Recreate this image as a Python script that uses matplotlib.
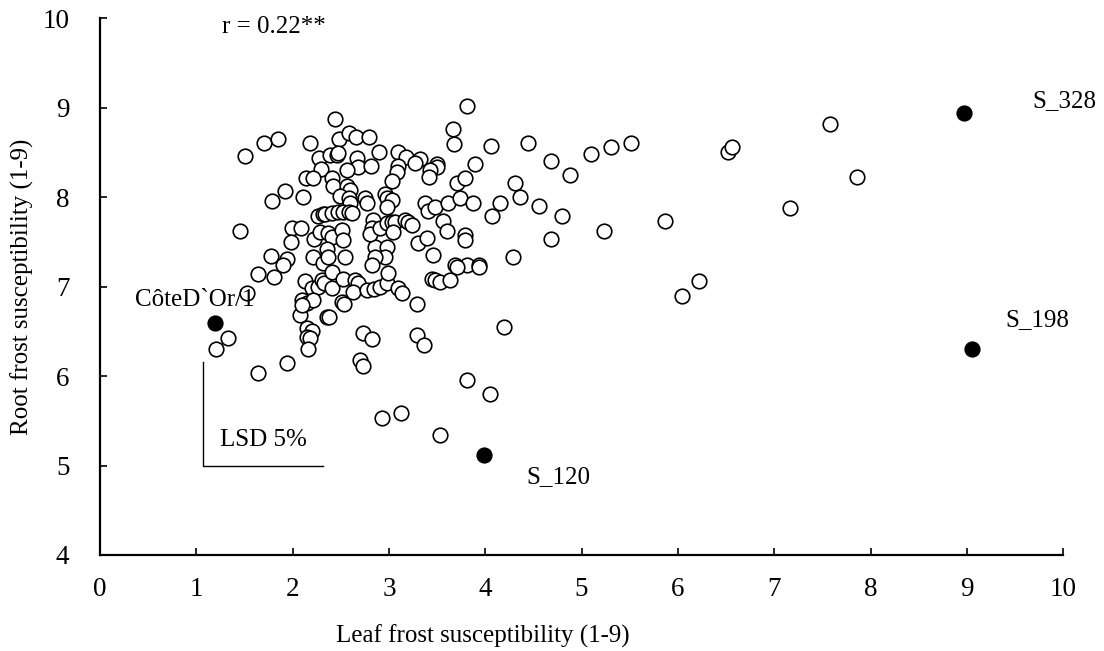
import matplotlib
matplotlib.use("Agg")
import matplotlib.pyplot as plt

plt.rcParams['font.family'] = ['Liberation Serif', 'DejaVu Serif']

leaf = [
    1.51, 1.70, 1.85, 2.18, 2.27, 2.29, 2.14, 2.21, 1.92, 1.79, 2.11, 1.45, 1.99, 2.09,
    1.98, 2.26, 2.32, 2.22, 2.28, 1.78, 1.94, 1.90, 2.21, 2.32, 1.64, 1.81, 2.13, 2.20,
    2.26, 2.30, 2.33, 1.53, 2.10, 2.15, 2.21, 2.08, 2.36, 2.15, 2.20, 2.15, 2.18, 2.16,
    1.33, 1.20, 1.94, 1.64,
    2.44, 3.81, 2.48, 2.59, 2.66, 2.79, 3.66, 3.68, 4.06, 2.90, 3.09, 3.18, 3.32, 3.27,
    3.50, 3.50, 3.43, 3.42, 3.89, 2.39, 2.46, 2.47, 2.67, 2.68, 2.81, 2.56, 2.41, 2.42,
    2.56, 2.60, 2.49, 2.58, 2.60, 2.75, 2.77, 3.09, 3.08, 3.03, 2.96, 2.98, 3.03, 2.98,
    2.34, 2.41, 2.47, 2.52, 2.58, 2.62, 2.37, 2.41, 2.51, 2.52, 2.36, 2.37, 2.54, 2.83,
    2.82, 2.86, 2.80, 2.98, 2.96, 2.86, 2.82, 2.91, 2.98, 3.03, 3.06, 3.04, 3.17, 3.20,
    3.24, 3.37, 3.41, 3.48, 3.61, 3.74, 3.87, 3.71, 3.79, 4.15, 4.07, 4.31, 4.36, 3.56,
    3.60, 3.30, 3.40, 3.79, 3.79, 3.46, 3.69, 3.81, 3.93, 4.29,
    4.44, 4.68, 4.88, 5.10, 5.31, 5.51, 6.52, 6.56, 7.58, 7.86, 7.16, 5.87, 4.56, 4.80,
    4.68, 5.23, 6.22, 6.04, 4.19,
    3.71, 3.93, 3.45, 3.48, 3.53, 3.63, 2.41, 2.41, 2.52, 2.65, 2.68, 2.63, 2.77, 2.84,
    2.91, 2.98, 2.99, 3.09, 3.14, 2.51, 2.53, 2.10, 2.38, 3.29, 2.73, 2.82, 3.29, 3.36,
    2.70, 2.73, 3.81, 4.05, 3.13, 2.93, 3.53,
]
root = [
    8.46, 8.60, 8.65, 8.60, 8.44, 8.31, 8.21, 8.21, 8.07, 7.96, 8.00, 7.62, 7.66, 7.65,
    7.50, 7.79, 7.81, 7.53, 7.61, 7.34, 7.31, 7.24, 7.33, 7.26, 7.14, 7.11, 7.06, 6.98,
    6.99, 7.07, 7.04, 6.93, 6.85, 6.82, 6.85, 6.68, 6.66, 6.54, 6.50, 6.44, 6.43, 6.30,
    6.42, 6.30, 6.15, 6.03,
    8.87, 9.02, 8.65, 8.72, 8.67, 8.67, 8.76, 8.59, 8.57, 8.51, 8.51, 8.45, 8.43, 8.38,
    8.37, 8.34, 8.30, 8.22, 8.37, 8.47, 8.47, 8.49, 8.44, 8.34, 8.35, 8.30, 8.21, 8.13,
    8.13, 8.08, 8.01, 7.99, 7.93, 7.99, 7.93, 8.35, 8.28, 8.18, 8.04, 7.99, 7.97, 7.89,
    7.81, 7.82, 7.83, 7.83, 7.83, 7.82, 7.60, 7.55, 7.63, 7.52, 7.42, 7.33, 7.33, 7.74,
    7.66, 7.44, 7.59, 7.44, 7.33, 7.33, 7.24, 7.66, 7.71, 7.72, 7.72, 7.61, 7.74, 7.72,
    7.69, 7.93, 7.85, 7.89, 7.93, 7.99, 7.94, 8.16, 8.21, 7.94, 7.79, 8.16, 8.00, 7.73,
    7.62, 7.49, 7.54, 7.58, 7.52, 7.35, 7.24, 7.24, 7.24, 7.33,
    8.61, 8.40, 8.25, 8.48, 8.56, 8.60, 8.51, 8.56, 8.82, 8.23, 7.88, 7.73, 7.90, 7.79,
    7.53, 7.62, 7.06, 6.90, 6.55,
    7.22, 7.22, 7.09, 7.07, 7.05, 7.07, 6.98, 7.16, 7.09, 7.07, 7.04, 6.94, 6.96, 6.97,
    6.99, 7.04, 7.15, 6.98, 6.93, 6.83, 6.81, 6.79, 6.66, 6.80, 6.48, 6.41, 6.46, 6.35,
    6.18, 6.11, 5.96, 5.80, 5.59, 5.53, 5.34,
]

hl_names = ["CôteD`Or/1", "S_328", "S_198", "S_120"]
hl_leaf = [1.19, 8.97, 9.05, 3.99]
hl_root = [6.59, 8.94, 6.30, 5.12]

fig = plt.figure(figsize=(11.04, 6.51), dpi=100)
ax = fig.add_axes([0.0906, 0.1475, 0.8724, 0.8245])

ax.scatter(leaf, root, s=110, facecolors='white', edgecolors='black', linewidths=1.2, zorder=3)
ax.scatter(hl_leaf, hl_root, s=110, facecolors='black', edgecolors='black', linewidths=1.2, zorder=4)

fs = 18
label_pos = [(0.36, 6.85), (9.68, 9.08), (9.40, 6.63), (4.43, 4.87)]
for name, (tx, ty) in zip(hl_names, label_pos):
    ax.text(tx, ty, name, fontsize=fs, ha='left', va='center')

ax.text(1.27, 9.90, "r = 0.22**", fontsize=fs, ha='left', va='center')

# LSD 5% bar
ax.plot([1.07, 1.07, 2.31], [6.16, 5.0, 5.0], color='black', lw=1.0)
ax.text(1.25, 5.28, "LSD 5%", fontsize=fs, ha='left', va='center')

ax.set_xlim(0, 10)
ax.set_ylim(4, 10)
ax.set_xticks(range(0, 11))
ax.set_yticks(range(4, 11))
ax.spines['top'].set_visible(False)
ax.spines['right'].set_visible(False)
ax.spines['left'].set_linewidth(1.6)
ax.spines['bottom'].set_linewidth(1.6)
ax.tick_params(direction='in', length=5, width=1.2, labelsize=19.5)
ax.tick_params(axis='x', pad=16)
ax.tick_params(axis='y', pad=22)
ax.set_xlabel("Leaf frost susceptibility (1-9)", fontsize=fs, x=0.397, labelpad=16)
ax.set_ylabel("Root frost susceptibility (1-9)", fontsize=fs, labelpad=6)

fig.savefig("out.png", dpi=100)
